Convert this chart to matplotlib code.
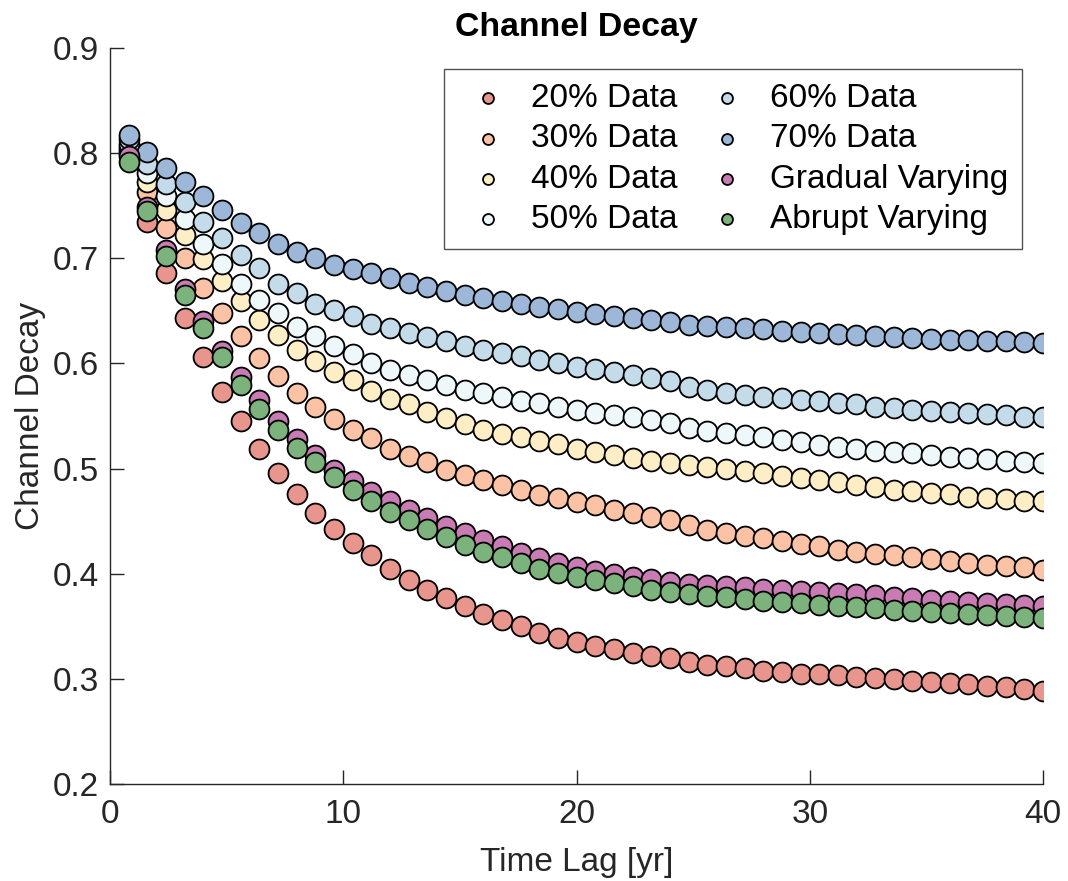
import numpy as np
import matplotlib
matplotlib.use("Agg")
import matplotlib.pyplot as plt

plt.rcParams['font.family'] = ['Liberation Sans', 'DejaVu Sans']

# time lag [yr], 50 samples
time_lag = [0.8 * k for k in range(1, 51)]

decay_20 = [0.800, 0.735, 0.686, 0.643, 0.606, 0.573, 0.545, 0.519, 0.496, 0.476,
            0.458, 0.443, 0.429, 0.418, 0.405, 0.394, 0.385, 0.377, 0.369, 0.362,
            0.356, 0.350, 0.344, 0.339, 0.335, 0.331, 0.328, 0.325, 0.322, 0.320,
            0.316, 0.313, 0.312, 0.310, 0.308, 0.307, 0.305, 0.305, 0.304, 0.302,
            0.301, 0.300, 0.298, 0.297, 0.296, 0.295, 0.293, 0.292, 0.290, 0.289]
decay_30 = [0.803, 0.763, 0.729, 0.700, 0.672, 0.648, 0.626, 0.605, 0.588, 0.572,
            0.559, 0.547, 0.537, 0.529, 0.519, 0.512, 0.506, 0.499, 0.494, 0.489,
            0.484, 0.480, 0.475, 0.472, 0.468, 0.465, 0.461, 0.458, 0.454, 0.451,
            0.446, 0.442, 0.439, 0.436, 0.434, 0.431, 0.428, 0.426, 0.423, 0.421,
            0.419, 0.418, 0.416, 0.414, 0.412, 0.410, 0.408, 0.407, 0.406, 0.404]
decay_40 = [0.806, 0.773, 0.746, 0.722, 0.699, 0.678, 0.659, 0.641, 0.627, 0.613,
            0.602, 0.592, 0.584, 0.574, 0.566, 0.561, 0.554, 0.548, 0.542, 0.537,
            0.533, 0.530, 0.526, 0.523, 0.519, 0.516, 0.513, 0.510, 0.507, 0.505,
            0.503, 0.502, 0.500, 0.498, 0.496, 0.493, 0.491, 0.489, 0.487, 0.484,
            0.483, 0.480, 0.479, 0.477, 0.476, 0.473, 0.472, 0.471, 0.469, 0.469]
decay_50 = [0.809, 0.781, 0.759, 0.737, 0.714, 0.695, 0.676, 0.660, 0.648, 0.635,
            0.626, 0.617, 0.609, 0.600, 0.594, 0.589, 0.584, 0.580, 0.575, 0.572,
            0.568, 0.564, 0.562, 0.559, 0.556, 0.553, 0.551, 0.549, 0.546, 0.543,
            0.539, 0.536, 0.534, 0.532, 0.530, 0.527, 0.525, 0.522, 0.521, 0.519,
            0.517, 0.516, 0.515, 0.513, 0.511, 0.510, 0.509, 0.507, 0.506, 0.505]
decay_60 = [0.813, 0.790, 0.771, 0.754, 0.735, 0.719, 0.703, 0.691, 0.676, 0.667,
            0.657, 0.651, 0.645, 0.638, 0.634, 0.629, 0.625, 0.621, 0.617, 0.613,
            0.610, 0.607, 0.603, 0.600, 0.597, 0.595, 0.592, 0.589, 0.586, 0.583,
            0.578, 0.575, 0.572, 0.570, 0.568, 0.567, 0.565, 0.564, 0.562, 0.561,
            0.559, 0.558, 0.556, 0.555, 0.554, 0.553, 0.552, 0.551, 0.549, 0.549]
decay_70 = [0.817, 0.801, 0.786, 0.773, 0.759, 0.746, 0.734, 0.724, 0.714, 0.706,
            0.700, 0.694, 0.690, 0.686, 0.681, 0.677, 0.673, 0.669, 0.665, 0.662,
            0.659, 0.657, 0.654, 0.652, 0.649, 0.647, 0.645, 0.643, 0.641, 0.639,
            0.637, 0.636, 0.635, 0.634, 0.633, 0.631, 0.630, 0.629, 0.628, 0.627,
            0.626, 0.625, 0.624, 0.623, 0.622, 0.622, 0.621, 0.621, 0.620, 0.619]
decay_gradual = [0.797, 0.749, 0.708, 0.671, 0.640, 0.612, 0.587, 0.565, 0.545, 0.528,
                 0.513, 0.499, 0.488, 0.478, 0.469, 0.461, 0.453, 0.445, 0.439, 0.432,
                 0.426, 0.420, 0.415, 0.410, 0.406, 0.403, 0.400, 0.397, 0.395, 0.392,
                 0.390, 0.389, 0.388, 0.387, 0.386, 0.385, 0.384, 0.383, 0.382, 0.381,
                 0.380, 0.378, 0.377, 0.375, 0.374, 0.373, 0.372, 0.371, 0.370, 0.369]
decay_abrupt = [0.792, 0.745, 0.702, 0.665, 0.634, 0.606, 0.580, 0.557, 0.537, 0.520,
                0.506, 0.492, 0.480, 0.469, 0.459, 0.451, 0.443, 0.435, 0.427, 0.421,
                0.416, 0.410, 0.405, 0.401, 0.397, 0.394, 0.391, 0.388, 0.385, 0.383,
                0.381, 0.379, 0.378, 0.376, 0.374, 0.373, 0.372, 0.370, 0.369, 0.368,
                0.367, 0.366, 0.365, 0.364, 0.363, 0.362, 0.361, 0.360, 0.359, 0.358]

labels = ['20% Data', '30% Data', '40% Data', '50% Data',
          '60% Data', '70% Data', 'Gradual Varying', 'Abrupt Varying']
series = [decay_20, decay_30, decay_40, decay_50,
          decay_60, decay_70, decay_gradual, decay_abrupt]
colors = ['#E8958D', '#FCC2A5', '#FEEEC6', '#EEF7FA',
          '#C4DCEA', '#9CB7D8', '#C97BB3', '#7CB37C']

fig = plt.figure(figsize=(10.68, 8.81), dpi=100)
ax = fig.add_axes([0.103, 0.110, 0.8737, 0.8355])

for y, lab, col in zip(series, labels, colors):
    ax.scatter(time_lag, y, s=205, c=col, edgecolors='black', linewidths=1.3,
               label=lab, zorder=3)

ax.set_xlim(0, 40)
ax.set_ylim(0.2, 0.9)
ax.set_xticks([0, 10, 20, 30, 40])
ax.set_yticks(np.arange(0.2, 0.91, 0.1))
ax.set_yticklabels(['0.2', '0.3', '0.4', '0.5', '0.6', '0.7', '0.8', '0.9'])

for side in ['top', 'right']:
    ax.spines[side].set_visible(False)
for side in ['left', 'bottom']:
    ax.spines[side].set_color('#262626')
    ax.spines[side].set_linewidth(1.0)
ax.tick_params(direction='in', length=10, width=1.0, colors='#262626',
               labelsize=24, pad=8)
ax.tick_params(axis='x', pad=11)

ax.set_xlabel('Time Lag [yr]', fontsize=24, color='#262626', labelpad=12)
ax.set_ylabel('Channel Decay', fontsize=24, color='#262626', labelpad=5)
ax.set_title('Channel Decay', fontsize=24.4, fontweight='bold', pad=9)

leg = ax.legend(loc='upper right', bbox_to_anchor=(0.9775, 0.9715), ncol=2,
                fontsize=24, frameon=True, fancybox=False, markerscale=0.55,
                handletextpad=0.4, columnspacing=0.57, labelspacing=0.28,
                borderpad=0.42, handlelength=1.8, borderaxespad=0)
leg.get_frame().set_edgecolor('#262626')
leg.get_frame().set_linewidth(1.0)

fig.savefig('out.png', dpi=100)
